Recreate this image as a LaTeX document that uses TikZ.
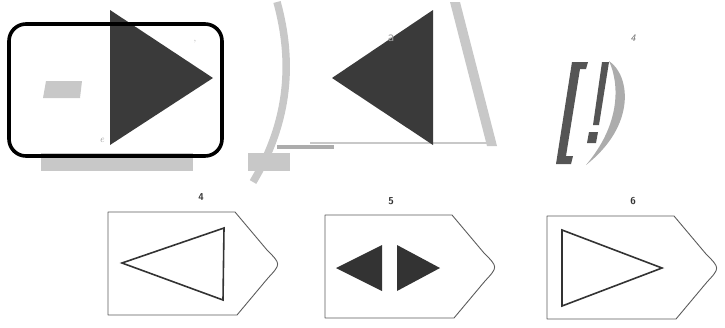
\documentclass[tikz,border=0pt]{standalone}
\usepackage{xcolor}
\definecolor{ink}{HTML}{3A3A3A}
\definecolor{stone}{HTML}{C8C8C8}
\definecolor{slate}{HTML}{555555}
\definecolor{ash}{HTML}{ACACAC}
\definecolor{pencil}{HTML}{333333}
\usepackage{tikz}
\usetikzlibrary{positioning}
\tikzset{
  dark/.style={fill=ink},
  grey/.style={fill=stone},
  boxline/.style={draw=pencil!80, line width=0.9pt, line join=round},
  tri/.style={draw=pencil, line width=1.6pt, line join=miter},
  num/.style={font=\sffamily\bfseries, text=pencil, inner sep=0pt},
  tagbox/.pic={
    \draw[boxline] (0,0) -- (127,0) -- (159,38) .. controls (173,52) .. (160,66)
      -- (129,103) -- (0,103) -- cycle;
  },
}
\begin{document}
\begin{tikzpicture}[x=1pt, y=-1pt,
    faint/.style={text=black!40, inner sep=0pt}]
  \useasboundingbox (0,0) rectangle (725,327);

  % First frame: the play sign in its rounded box.
  \fill[grey] (41,153) rectangle (193,171);
  \fill[grey] (43,98) -- (46,81) -- (82,81) -- (80,98) -- cycle;
  \fill[dark] (110,10) -- (213,78) -- (110,145) -- cycle;
  \draw[line width=3.6pt, rounded corners=17pt] (9,24) rectangle (222,156);
  \node[faint, font=\normalsize\itshape] (e) at (102,140) {e};
  \node[faint, font=\small] (tick) at (195,43) {'};

  % Second frame: the sign turned back, between two strokes.
  \draw[stone, line width=7.5pt] (277,2) .. controls (293,60) and (290,120) .. (253,182);
  \fill[grey] (450,2) -- (460,2) -- (497,146) -- (487,146) -- cycle;
  \draw[stone, line width=2pt] (310,143) -- (487,143);
  \fill[ash] (277,145) rectangle (334,149);
  \fill[grey] (248,153) rectangle (290,171);
  \fill[dark] (433,10) -- (433,145) -- (332,78) -- cycle;
  \node[faint, font=\sffamily\Large] (a) at (391,38) {a};

  % Third frame: the bracket marks.
  \node[faint, font=\sffamily\itshape, text=black!60] (four) at (633,38) {4};
  \fill[slate] (572,62) -- (588,62) -- (586,69) -- (580,69) -- (566,156)
    -- (573,156) -- (571,164) -- (556,164) -- cycle;
  \fill[slate] (602,62) -- (609,62) -- (599,125) -- (593,125) -- cycle;
  \fill[slate] (589,132) -- (598,132) -- (596,143) -- (587,143) -- cycle;
  \fill[ash] (609,61) .. controls (630,75) and (637,125) .. (586,165)
    .. controls (620,125) and (620,85) .. (609,61);

  % Lower row: the three tags.
  \pic at (108,212) {tagbox};
  \pic at (325,215) {tagbox};
  \pic at (547,216) {tagbox};
  \node[num] (n4) at (201,197) {4};
  \node[num] (n5) at (391,201) {5};
  \node[num] (n6) at (633,201) {6};

  \draw[tri] (122,263) -- (224,228) -- (223,300) -- cycle;
  \fill[pencil] (336,268) -- (382,245) -- (382,291) -- cycle;
  \fill[pencil] (397,245) -- (440,268) -- (397,291) -- cycle;
  \draw[tri] (562,230) -- (662,268) -- (562,306) -- cycle;
\end{tikzpicture}
\end{document}
